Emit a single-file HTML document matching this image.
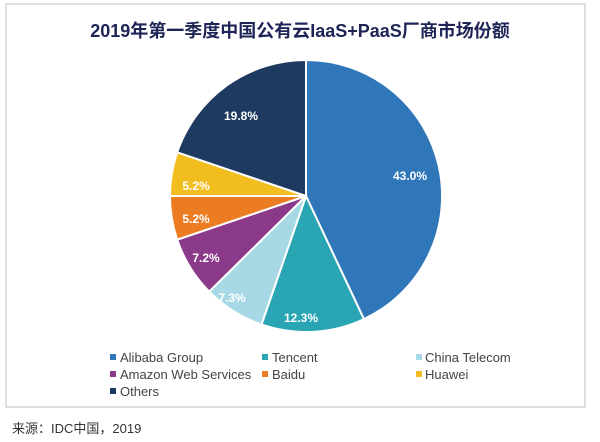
<!DOCTYPE html>
<html><head><meta charset="utf-8"><style>
body{margin:0;width:600px;height:442px;background:#fff;overflow:hidden;font-family:"Liberation Sans","Noto Sans CJK SC",sans-serif;}
</style></head><body>
<svg width="600" height="442" xmlns="http://www.w3.org/2000/svg" style="position:absolute;left:0;top:0">
<rect x="6" y="4" width="579" height="403" fill="#fff" stroke="#d4d4d8" stroke-width="1.5"/>
<text x="300" y="37" text-anchor="middle" font-size="18" font-weight="bold" fill="#1e2456" font-family="Liberation Sans,Noto Sans CJK SC,sans-serif">2019年第一季度中国公有云IaaS+PaaS厂商市场份额</text>
<g stroke="#fff" stroke-width="2" stroke-linejoin="round">
<path d="M306,196 L306,60 A136,136 0 0 1 363.9,319.1 Z" fill="#2f77b9"/>
<path d="M306,196 L363.9,319.1 A136,136 0 0 1 261.5,324.5 Z" fill="#2aa5b3"/>
<path d="M306,196 L261.5,324.5 A136,136 0 0 1 209.2,291.6 Z" fill="#a7d8e6"/>
<path d="M306,196 L209.2,291.6 A136,136 0 0 1 177.2,239.7 Z" fill="#8b3a8a"/>
<path d="M306,196 L177.2,239.7 A136,136 0 0 1 170,196 Z" fill="#ec7c22"/>
<path d="M306,196 L170,196 A136,136 0 0 1 177.2,152.3 Z" fill="#f2bd1f"/>
<path d="M306,196 L177.2,152.3 A136,136 0 0 1 306,60 Z" fill="#1f3a60"/>
</g>
<g fill="#fff" font-size="12" font-weight="bold" text-anchor="middle">
<text x="410" y="180">43.0%</text>
<text x="301" y="322">12.3%</text>
<text x="232" y="302">7.3%</text>
<text x="206" y="262">7.2%</text>
<text x="196" y="223">5.2%</text>
<text x="196" y="190">5.2%</text>
<text x="241" y="120">19.8%</text>
</g>
<g font-size="13" fill="#444">
<rect x="110" y="354" width="6" height="6" fill="#2f77b9"/><text x="120" y="362">Alibaba Group</text>
<rect x="262" y="354" width="6" height="6" fill="#2aa5b3"/><text x="272" y="362">Tencent</text>
<rect x="416" y="354" width="6" height="6" fill="#a7d8e6"/><text x="425" y="362">China Telecom</text>
<rect x="110" y="371" width="6" height="6" fill="#8b3a8a"/><text x="120" y="379">Amazon Web Services</text>
<rect x="262" y="371" width="6" height="6" fill="#ec7c22"/><text x="272" y="379">Baidu</text>
<rect x="416" y="371" width="6" height="6" fill="#f2bd1f"/><text x="425" y="379">Huawei</text>
<rect x="110" y="388" width="6" height="6" fill="#1f3a60"/><text x="120" y="396">Others</text>
</g>
<text x="12" y="433" font-size="13" fill="#333" font-family="Liberation Sans,Noto Sans CJK SC,sans-serif">来源：IDC中国，2019</text>
</svg>
</body></html>
